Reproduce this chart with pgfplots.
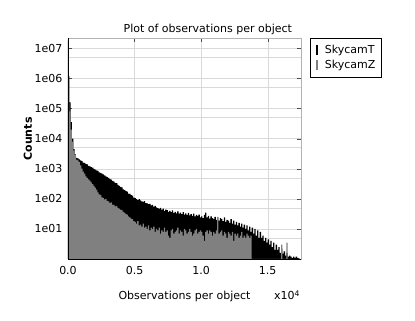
\documentclass[border=0pt]{standalone}
\usepackage{fontspec}
\setmainfont{DejaVu Sans}
\usepackage{pgfplots}
\usepackage{pgfplotstable}
\pgfplotsset{compat=1.18}

\newcommand\lf{\fontsize{11}{13}\selectfont}

% histogram bins: left edge, count (last row closes the interval)
\pgfplotstableread{
x y
0 1.8e7
50 1.2e6
100 1.6e5
200 3.5e4
300 1.0e4
400 4500
500 3000
600 2300
700 2200
800 2050
900 1900
1000 1800
1100 1600
1200 1550
1300 1420
1400 1380
1500 1250
1600 1200
1700 1120
1800 1080
1900 980
2000 930
2100 880
2200 840
2300 760
2400 730
2500 690
2600 650
2700 600
2800 560
2900 530
3000 500
3100 450
3200 430
3300 395
3400 370
3500 340
3600 330
3700 290
3800 270
3900 250
4000 240
4100 205
4200 195
4300 180
4400 172
4500 150
4600 145
4700 132
4800 128
4900 110
5000 106
5100 98
5200 90
5300 97
5400 88
5500 82
5600 79
5700 84
5800 72
5900 70
6000 66
6100 68
6200 60
6300 63
6400 55
6500 58
6600 52
6700 49
6800 46
6900 50
7000 44
7100 47
7200 40
7300 44
7400 42
7500 37
7600 40
7700 36
7800 41
7900 34
8000 37
8100 33
8200 38
8300 32
8400 35
8500 31
8600 36
8700 30
8800 33
8900 29
9000 34
9100 28
9200 31
9300 27
9400 32
9500 26
9600 29
9700 27
9800 30
9900 24
10000 26
10100 23
10200 29
10300 35
10400 24
10500 27
10600 22
10700 26
10800 23
10900 21
11000 25
11100 20
11200 24
11300 19
11400 23
11500 21
11600 18
11700 24
11800 17
11900 20
12000 19
12100 16
12200 21
12300 15
12400 19
12500 14
12600 17
12700 13
12800 16
12900 12
13000 15
13100 11
13200 14
13300 10
13400 13
13500 9
13600 12
13700 8
13800 11
13900 7
14000 10
14100 6
14200 9
14300 5
14400 8
14500 5
14600 6
14700 4
14800 5
14900 3.5
15000 4.5
15100 3
15200 4
15300 2.5
15400 3.5
15500 2
15600 3
15700 2
15800 2.5
15900 1.6
16000 2.2
16100 1.5
16200 1.8
16300 1.3
16400 1.6
16500 1.2
16600 1.3
16700 1.2
16800 1.1
16900 1.2
17000 1.1
17100 1.2
17200 1.1
17300 1.05
17400 1
}\skycamT

\pgfplotstableread{
x y
0 1.5e5
100 8e4
200 2e4
300 8000
400 4000
500 2800
600 2000
700 1900
800 1700
900 1300
1000 1000
1100 800
1200 680
1300 560
1400 500
1500 440
1600 400
1700 350
1800 310
1900 270
2000 235
2100 200
2200 165
2300 140
2400 135
2500 112
2600 108
2700 96
2800 100
2900 85
3000 82
3100 72
3200 76
3300 64
3400 63
3500 56
3600 58
3700 50
3800 47
3900 44
4000 42
4100 37
4200 35
4300 31
4400 30
4500 26
4600 24
4700 22
4800 21
4900 18
5000 17
5100 15
5200 18
5300 13
5400 14
5500 12
5600 15
5700 11
5800 12
5900 10
6000 13
6100 9
6200 11
6300 10
6400 12
6500 8
6600 10
6700 9
6800 11
6900 7
7000 9
7100 8
7200 11
7300 8
7400 9
7500 6
7600 5
7700 9
7800 10
7900 7
8000 8
8100 9
8200 11
8300 7
8400 9
8500 8
8600 6
8700 10
8800 9
8900 7
9000 8
9100 10
9200 8
9300 6
9400 7
9500 9
9600 10
9700 7
9800 8
9900 9
10000 8
10100 6
10200 4
10300 8
10400 9
10500 7
10600 9
10700 8
10800 6
10900 8
11000 7
11100 9
11200 25
11300 7
11400 8
11500 9
11600 6
11700 8
11800 7
11900 5
12000 8
12100 7
12200 6
12300 8
12400 4
12500 7
12600 6
12700 7
12800 5
12900 6
13000 8
13100 5
13200 6
13300 5
13400 7
13500 6
13600 5
13700 6
13800 1
16000 3
16100 1
16400 3.5
16500 1
16800 1
}\skycamZ

\begin{document}
\begin{tikzpicture}
\useasboundingbox (-68pt,-62pt) rectangle (347pt,259pt);
\begin{axis}[
    name=ax, at={(0,0)}, anchor=south west,
    scale only axis, width=233pt, height=221pt,
    ymode=log,
    xmin=0, xmax=17500, ymin=1, ymax=2.2e7,
    scaled x ticks=false,
    xtick={0,5000,10000,15000},
    xticklabels={0.0,0.5,1.0,1.5},
    ytick={10,100,1000,10000,100000,1000000,10000000},
    yticklabels={1e01,1e02,1e03,1e04,1e05,1e06,1e07},
    minor ytick={5,50,500,5000,50000,500000,5000000},
    xmajorgrids, ymajorgrids, yminorgrids,
    major grid style={gray!30}, minor grid style={gray!30},
    tick align=inside, major tick length=4pt, minor tick length=0pt,
    tick style={black!70},
    axis line style={gray!60},
    every tick label/.append style={font=\lf},
    xticklabel style={yshift=-4pt},
    yticklabel style={xshift=-2pt},
    title={Plot of observations per object},
    title style={font=\lf, at={(axis description cs:0.6,1)}, yshift=-6pt},
    xlabel={Observations per object},
    xlabel style={font=\lf, at={(axis description cs:0.5,0)}, anchor=base, yshift=-41pt},
    ylabel={Counts},
    ylabel style={font=\lf\bfseries, at={(axis description cs:-0.172,0.543)}, anchor=center},
    legend style={at={(1.039,1)}, anchor=north west, draw=black, fill=white,
        font=\lf, inner xsep=4pt, inner ysep=5pt, row sep=1pt},
    legend cell align=left,
]
\addplot[ybar interval, fill=black, draw=none,
    legend image code/.code={\path (0,-0.2cm) (0.3cm,0.2cm);
        \draw[black, line width=1.5pt] (0.1cm,-0.17cm) -- (0.1cm,0.17cm);}]
    table[x=x, y=y] {\skycamT};
\addlegendentry{SkycamT}
\addplot[ybar interval, fill=gray, draw=none,
    legend image code/.code={\path (0,-0.2cm) (0.3cm,0.2cm);
        \draw[gray, line width=1.5pt] (0.1cm,-0.17cm) -- (0.1cm,0.17cm);}]
    table[x=x, y=y] {\skycamZ};
\addlegendentry{SkycamZ}
\end{axis}
\draw[black, line width=0.9pt] (0,221pt) -- (0,0) -- (233pt,0);
\node[anchor=base, font=\lf] at (219pt,-41pt) {x10\textsuperscript{4}};
\end{tikzpicture}
\end{document}
